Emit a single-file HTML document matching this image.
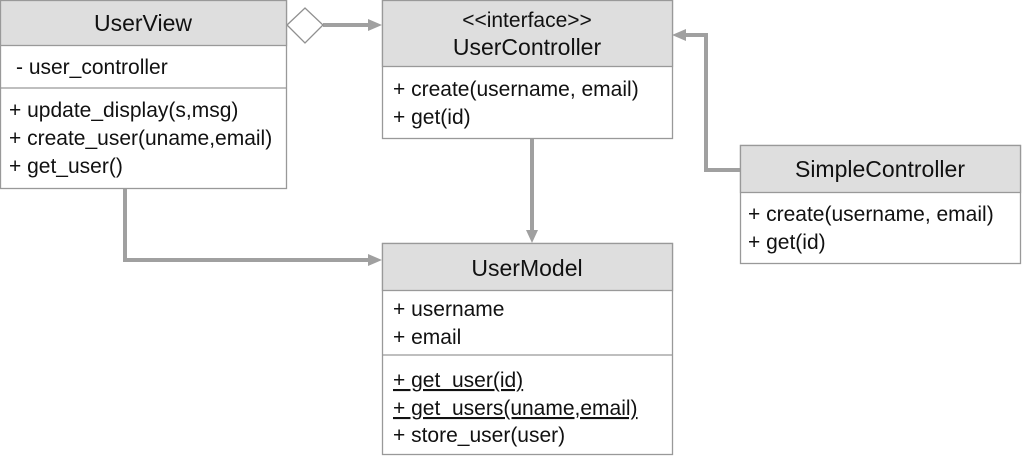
<!DOCTYPE html>
<html><head><meta charset="utf-8"><style>
body{margin:0;background:#fff;}
svg text{font-family:"Liberation Sans",Arial,sans-serif;fill:#111;}
.h{font-size:23px;text-anchor:middle;}
.b{font-size:21px;}
</style></head><body>
<svg width="1022" height="457" viewBox="0 0 1022 457" xmlns="http://www.w3.org/2000/svg">
<g fill="none" stroke="#a0a0a0" stroke-width="4">
<polyline points="323,25 370,25"/>
<polyline points="532,139 532,232"/>
<polyline points="125,189 125,260 370,260"/>
<polyline points="740,170 706,170 706,35 684,35"/>
</g>
<g fill="#a0a0a0">
<polygon points="382,25 368,19 368,31"/>
<polygon points="532,243 526,230 538,230"/>
<polygon points="382,260 368,254 368,266"/>
<polygon points="672,35 686,29 686,41"/>
</g>
<polygon points="287,25 305,8 323,25 305,43" fill="#fff" stroke="#909090" stroke-width="1.3"/>
<g stroke="#999" stroke-width="1.3">
<rect x="0.5" y="0.5" width="286" height="188" fill="#fff"/>
<rect x="0.5" y="0.5" width="286" height="45" fill="#dedede"/>
<line x1="0" y1="88" x2="286" y2="88"/>
<rect x="382.5" y="0.5" width="290" height="138" fill="#fff"/>
<rect x="382.5" y="0.5" width="290" height="66" fill="#dedede"/>
<rect x="382.5" y="243.5" width="290" height="211" fill="#fff"/>
<rect x="382.5" y="243.5" width="290" height="47" fill="#dedede"/>
<line x1="382" y1="355" x2="672" y2="355"/>
<rect x="740.5" y="145.5" width="280" height="118" fill="#fff"/>
<rect x="740.5" y="145.5" width="280" height="47" fill="#dedede"/>
</g>
<text class="h" x="143" y="31">UserView</text>
<text class="b" x="16" y="74">- user_controller</text>
<text class="b" x="9" y="117">+ update_display(s,msg)</text>
<text class="b" x="9" y="145">+ create_user(uname,email)</text>
<text class="b" x="9" y="173">+ get_user()</text>
<text class="h" x="527" y="27" style="font-size:21px">&lt;&lt;interface&gt;&gt;</text>
<text class="h" x="527" y="55">UserController</text>
<text class="b" x="393" y="96">+ create(username, email)</text>
<text class="b" x="393" y="124">+ get(id)</text>
<text class="h" x="527" y="276">UserModel</text>
<text class="b" x="393" y="316">+ username</text>
<text class="b" x="393" y="344">+ email</text>
<text class="b" x="393" y="387" text-decoration="underline">+ get_user(id)</text>
<text class="b" x="393" y="415" text-decoration="underline">+ get_users(uname,email)</text>
<text class="b" x="393" y="442">+ store_user(user)</text>
<text class="h" x="880" y="177">SimpleController</text>
<text class="b" x="748" y="221">+ create(username, email)</text>
<text class="b" x="748" y="249">+ get(id)</text>
</svg>
</body></html>
